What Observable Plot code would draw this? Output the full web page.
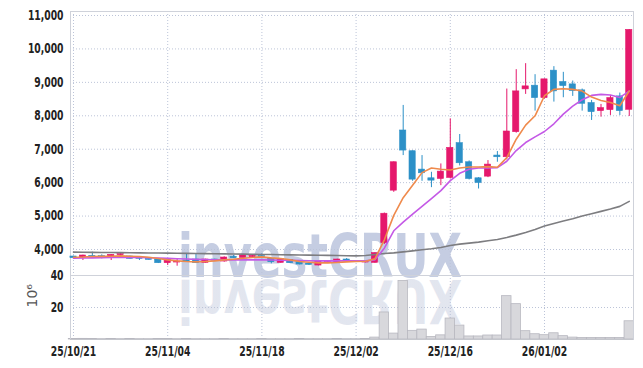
<!DOCTYPE html>
<html><head><meta charset="utf-8">
<script src="https://cdn.jsdelivr.net/npm/d3@7"></script>
<script src="https://cdn.jsdelivr.net/npm/@observablehq/plot@0.6"></script>
<style>
html,body{margin:0;padding:0;background:#fff;}
#wrap{position:relative;width:643px;height:368px;overflow:hidden;}
#wrap svg{position:absolute;left:0;top:0;}
</style></head>
<body><div id="wrap"></div>
<script>
const dates = ["25/10/21","25/10/22","25/10/23","25/10/24","25/10/27","25/10/28","25/10/29","25/10/30","25/10/31","25/11/03",
"25/11/04","25/11/05","25/11/06","25/11/07","25/11/10","25/11/11","25/11/12","25/11/13","25/11/14","25/11/17",
"25/11/18","25/11/19","25/11/20","25/11/21","25/11/24","25/11/25","25/11/26","25/11/27","25/11/28","25/12/01",
"25/12/02","25/12/03","25/12/04","25/12/05","25/12/08","25/12/09","25/12/10","25/12/11","25/12/12","25/12/15",
"25/12/16","25/12/17","25/12/18","25/12/19","25/12/22","25/12/23","25/12/24","25/12/26","25/12/29","25/12/30",
"26/01/02","26/01/05","26/01/06","26/01/07","26/01/08","26/01/09","26/01/12","26/01/13","26/01/14","26/01/15"];

const open = [3790,3750,3810,3800,3770,3830,3790,3770,3720,3700,
3590,3610,3670,3700,3600,3700,3640,3780,3750,3770,
3800,3720,3600,3690,3620,3580,3520,3590,3600,3700,
3660,3610,3600,4190,5760,7560,6940,6390,6130,6110,
6140,7180,6610,6130,6180,6810,6760,7510,8790,8900,
8530,9350,9010,8940,8760,8380,8140,8170,8580,8180];
const close = [3740,3820,3780,3770,3840,3860,3720,3720,3690,3590,
3690,3640,3630,3590,3700,3670,3760,3740,3820,3810,
3770,3620,3720,3590,3550,3540,3650,3620,3700,3640,
3620,3640,3890,5070,6610,6960,6090,6280,6060,6330,
7040,6580,6110,5990,6540,6760,7530,8730,8880,8530,
9090,8730,8890,8740,8360,8110,8230,8530,8140,10570];
const high = [3800,3830,3920,3840,3850,3880,3800,3780,3720,3710,
3700,3700,3850,3870,3710,3710,3780,3820,3830,3830,
3870,3730,3730,3700,3630,3600,3660,3630,3710,3730,
3670,3660,3900,5090,6620,8310,6950,6810,6310,6560,
7910,7440,6650,6150,6660,6930,8800,9380,9560,9230,
9100,9470,9300,9040,8800,8460,8340,8610,8680,10580];
const low = [3730,3670,3770,3720,3670,3810,3710,3670,3680,3580,
3520,3500,3620,3580,3590,3650,3620,3730,3740,3760,
3720,3570,3590,3580,3540,3520,3510,3580,3590,3630,
3610,3600,3590,4150,5710,6810,6040,6040,5850,5910,
6110,6500,6080,5810,6150,6610,6680,7480,8640,8140,
8500,8410,8540,8580,8140,7860,7960,8010,8010,7980];
// volume, millions of shares
const volume = [0.3,0.4,0.3,0.2,0.3,0.2,0.3,0.2,0.2,0.3,
0.3,0.2,0.3,0.2,0.2,0.2,0.3,0.2,0.2,0.2,
0.3,0.2,0.2,0.2,0.3,0.2,0.2,0.2,0.3,0.2,
0.2,0.3,1.2,16.9,3.7,36.6,5.4,6.2,1.6,2.6,
13.1,8.7,1.9,1.9,2.5,2.5,27.1,22.1,5.2,3.3,
2.7,3.9,2.1,1.2,1.0,1.0,1.0,1.0,1.0,11.4];
const ma5 = [3770,3775,3790,3795,3800,3810,3800,3790,3770,3730,
3690,3660,3640,3630,3640,3660,3690,3710,3740,3760,
3780,3750,3730,3690,3640,3620,3600,3600,3610,3630,
3640,3650,3720,4290,5020,5550,5920,6300,6440,6400,
6380,6440,6470,6470,6480,6460,6750,7300,7720,8000,
8600,8790,8810,8790,8740,8560,8460,8400,8300,8740];
const ma20 = [3740,3745,3750,3755,3760,3765,3765,3760,3755,3745,
3735,3725,3715,3705,3700,3695,3690,3690,3690,3690,
3690,3685,3680,3675,3670,3665,3660,3660,3660,3660,
3660,3660,3690,4040,4560,4820,5060,5290,5520,5760,
6060,6280,6400,6440,6440,6450,6640,6960,7200,7370,
7530,7760,8050,8290,8480,8610,8640,8620,8550,8740];
const ma120 = [3920,3918,3915,3912,3909,3906,3903,3900,3897,3894,
3891,3888,3884,3880,3876,3872,3868,3864,3860,3856,
3852,3848,3844,3840,3836,3832,3828,3824,3820,3815,
3810,3820,3850,3880,3900,3930,3960,3990,4020,4060,
4120,4160,4190,4220,4260,4300,4360,4430,4510,4600,
4700,4780,4850,4920,5000,5070,5140,5210,5290,5440];
const priceTicks = [4000,5000,6000,7000,8000,9000,10000,11000];
const volTicks = [20,40];
const dateTicks = [0,10,20,30,40,50];
const watermark = "investCRUX";

const UP = "#e5186c", DOWN = "#2c90c7";
const W = 643, H = 368;
const xDomain = [-0.32, 59.45];
const FONT = '"DejaVu Sans Condensed","Liberation Sans Narrow",sans-serif';
const WMFONT = '"DejaVu Sans","Liberation Sans",sans-serif';
const GRID = {stroke: "#bcc4d8", strokeDasharray: "1,2", strokeWidth: 1};
const FRAME = "#cfd2da";

const data = dates.map((d, i) => ({i, date: d, o: open[i], c: close[i], h: high[i], l: low[i], v: volume[i]}));
const ups = data.filter(d => d.c >= d.o), downs = data.filter(d => d.c < d.o);
const wrap = document.getElementById("wrap");

// watermark layer (behind)
const wm = d3.create("svg").attr("width", W).attr("height", H);
const defs = wm.append("defs");
const g = defs.append("linearGradient").attr("id", "fade").attr("gradientUnits", "userSpaceOnUse")
  .attr("x1", 0).attr("y1", 279).attr("x2", 0).attr("y2", 320);
g.append("stop").attr("offset", 0).attr("stop-color", "#d6dbe8").attr("stop-opacity", 0.7);
g.append("stop").attr("offset", 1).attr("stop-color", "#e6e8ef").attr("stop-opacity", 0.05);
wm.append("text").attr("x", 178).attr("y", 277).attr("textLength", 284).attr("lengthAdjust", "spacingAndGlyphs")
  .attr("font-family", WMFONT).attr("font-weight", "bold").attr("font-size", 60).attr("fill", "#c5cde2").text(watermark);
wm.append("text").attr("x", 178).attr("y", 277).attr("textLength", 284).attr("lengthAdjust", "spacingAndGlyphs")
  .attr("transform", "translate(0,557) scale(1,-1)")
  .attr("font-family", WMFONT).attr("font-weight", "bold").attr("font-size", 60).attr("fill", "url(#fade)").text(watermark);
wrap.appendChild(wm.node());

const tickStyle = {tickSize: 0, tickPadding: 7, fontSize: 13.5, fontWeight: "bold", fill: "#222", label: null};

const price = Plot.plot({
  width: W, height: H, marginLeft: 70, marginRight: 10, marginTop: 11, marginBottom: 93,
  style: {background: "transparent", fontFamily: FONT, fontSize: "13.5px", fontWeight: "bold", color: "#222"},
  x: {domain: xDomain, axis: null},
  y: {domain: [3222, 11120], axis: null},
  marks: [
    Plot.ruleY(priceTicks, GRID),
    Plot.ruleX(dateTicks, GRID),
    Plot.frame({stroke: FRAME}),
    Plot.axisY(priceTicks, {...tickStyle, tickFormat: d3.format(",")}),
    Plot.ruleX(ups, {x: "i", y1: "l", y2: "h", stroke: UP, strokeWidth: 1}),
    Plot.ruleX(downs, {x: "i", y1: "l", y2: "h", stroke: DOWN, strokeWidth: 1}),
    Plot.rect(ups, {x1: d => d.i - 0.33, x2: d => d.i + 0.33, y1: "o", y2: "c", fill: UP, stroke: UP, strokeWidth: 0.6}),
    Plot.rect(downs, {x1: d => d.i - 0.33, x2: d => d.i + 0.33, y1: "o", y2: "c", fill: DOWN, stroke: DOWN, strokeWidth: 0.6}),
    Plot.line(ma120, {x: (d, i) => i, y: d => d, stroke: "#7d7d80", strokeWidth: 1.6}),
    Plot.line(ma20, {x: (d, i) => i, y: d => d, stroke: "#c459e6", strokeWidth: 1.6}),
    Plot.line(ma5, {x: (d, i) => i, y: d => d, stroke: "#ef8a4c", strokeWidth: 1.6})
  ]
});
wrap.appendChild(price);

const vol = Plot.plot({
  width: W, height: H, marginLeft: 70, marginRight: 10, marginTop: 275, marginBottom: 29,
  style: {background: "transparent", fontFamily: FONT, fontSize: "13.5px", fontWeight: "bold", color: "#222"},
  x: {domain: xDomain, axis: null},
  y: {domain: [0, 40], axis: null},
  marks: [
    Plot.ruleY(volTicks, GRID),
    Plot.ruleX(dateTicks, GRID),
    Plot.rect(data, {x1: d => d.i - 0.5, x2: d => d.i + 0.5, y1: 0, y2: "v", fill: "#d8d8dc", stroke: "#b8b8c0", strokeWidth: 0.8}),
    Plot.frame({stroke: FRAME}),
    Plot.ruleY([0], {stroke: "#c4c6cc"}),
    Plot.axisY(volTicks, tickStyle),
    Plot.axisX(dateTicks, {...tickStyle, tickFormat: i => dates[i]}),
    Plot.text(["10⁶"], {frameAnchor: "left", dx: -38, rotate: -90, fontSize: 14, fontWeight: "normal", fontFamily: "DejaVu Sans", fill: "#555"})
  ]
});
wrap.appendChild(vol);

// condense the tick labels horizontally (reference uses a narrow typeface)
for (const svg of [price, vol]) {
  svg.querySelectorAll("text").forEach(t => {
    if (t.textContent === "10⁶") return;
    const w = t.getComputedTextLength();
    if (w > 0) {
      t.setAttribute("textLength", (w * 0.76).toFixed(1));
      t.setAttribute("lengthAdjust", "spacingAndGlyphs");
    }
  });
}
</script>
</body></html>
